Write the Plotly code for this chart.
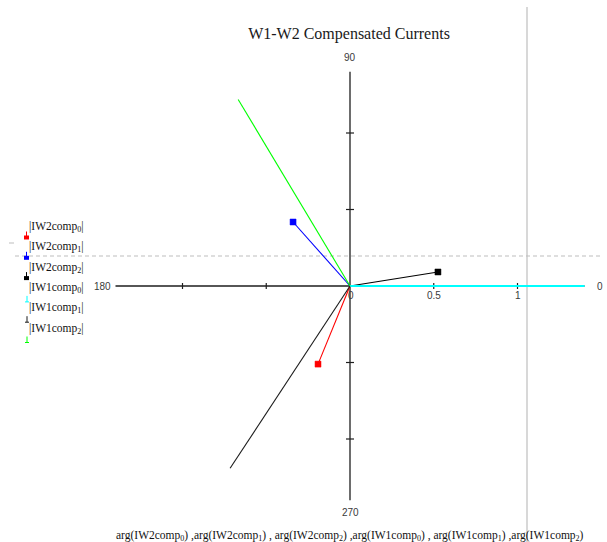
import numpy as np
import plotly.graph_objects as go

# ---- data: phasors (magnitude, angle in degrees) ----
names = ["IW2comp0", "IW2comp1", "IW2comp2", "IW1comp0", "IW1comp1", "IW1comp2"]
magnitudes = [0.545, 0.539, 0.533, 1.40, 1.39, 1.39]
angles_deg = [249.5, 129.1, 9.9, 0.0, 239.0, 118.7]
colors = ["#ff0000", "#0000ff", "#000000", "#00ffff", "#1a1a1a", "#00ff00"]
has_marker = [True, True, True, False, False, False]

radial_ticks = [0.5, 1.0]
radial_tick_labels = ["0.5", "1"]
angle_labels = ["0", "90", "180", "270"]
R_MAX = 1.4

# ---- canvas geometry ----
W, H = 607, 542
CX, CY = 350, 286          # pole position in pixels
SX, SY = 167.5, 153.0      # pixels per unit (x, y)

x_range = [-CX / SX, (W - CX) / SX]
y_range = [(CY - H) / SY, CY / SY]


def px(x):
    return x / W


def py(y):
    return 1 - y / H


fig = go.Figure()

AXIS_COLOR = "#1e1e1e"
# cross axes
fig.add_shape(type="line", x0=-R_MAX, x1=R_MAX, y0=0, y1=0,
              line=dict(color=AXIS_COLOR, width=1.3), layer="below")
fig.add_shape(type="line", x0=0, x1=0, y0=-R_MAX, y1=R_MAX,
              line=dict(color=AXIS_COLOR, width=1.3), layer="below")

# tick marks on both axes
for t in radial_ticks:
    for s in (-1, 1):
        fig.add_shape(type="line", x0=s * t, x1=s * t, y0=-3 / SY, y1=3 / SY,
                      line=dict(color=AXIS_COLOR, width=1.2), layer="below")
        fig.add_shape(type="line", y0=s * t, y1=s * t, x0=-4 / SX, x1=4 / SX,
                      line=dict(color=AXIS_COLOR, width=1.2), layer="below")

# marker guide lines
fig.add_shape(type="line", xref="paper", yref="paper",
              x0=px(527), x1=px(527), y0=py(7), y1=py(542),
              line=dict(color="#d8d8d8", width=2), layer="below")
fig.add_shape(type="line", xref="paper", yref="paper",
              x0=px(15), x1=px(602), y0=py(256), y1=py(256),
              line=dict(color="#bdbdbd", width=1, dash="4px,3px"), layer="below")
fig.add_shape(type="line", xref="paper", yref="paper",
              x0=px(9), x1=px(14), y0=py(243), y1=py(243),
              line=dict(color="#bdbdbd", width=1), layer="below")

# phasor vectors
for name, r, a, c, m in zip(names, magnitudes, angles_deg, colors, has_marker):
    th = np.deg2rad(a)
    xs = [0.0, r * np.cos(th)]
    ys = [0.0, r * np.sin(th)]
    lw = 2.0 if a == 0.0 else 1.1
    fig.add_trace(go.Scatter(
        x=xs, y=ys, mode="lines+markers" if m else "lines",
        line=dict(color=c, width=lw),
        marker=dict(symbol="square", size=[0, 6], color=c, opacity=1,
                    line=dict(width=0.5, color=c)),
        name=name, showlegend=False, hoverinfo="skip"))

SANS = "Liberation Sans, Arial, sans-serif"
SERIF = "Liberation Serif, Times New Roman, serif"
LABEL_COLOR = "#3a3a3a"

# radial tick labels below the horizontal axis
fig.add_annotation(x=0, y=0, text="0", showarrow=False, yshift=-9, xshift=1,
                   font=dict(family=SANS, size=10, color=LABEL_COLOR))
for t, lab in zip(radial_ticks, radial_tick_labels):
    fig.add_annotation(x=t, y=0, text=lab, showarrow=False, yshift=-9,
                       font=dict(family=SANS, size=10, color=LABEL_COLOR))

# angle labels at the axis ends
angle_pos = [(R_MAX, 0, 15, 0), (0, R_MAX, 0, 14), (-R_MAX, 0, -13, 0), (0, -R_MAX, 0, -12)]
for lab, (ax_, ay_, xs_, ys_) in zip(angle_labels, angle_pos):
    fig.add_annotation(x=ax_, y=ay_, text=lab, showarrow=False,
                       xshift=xs_, yshift=ys_,
                       font=dict(family=SANS, size=10, color=LABEL_COLOR))

# legend block on the left
for i, (name, c, m) in enumerate(zip(names, colors, has_marker)):
    ty = 227 + 20.3 * i
    label = "|" + name[:-1] + "<sub>" + name[-1] + "</sub>|"
    fig.add_annotation(xref="paper", yref="paper", x=px(27), y=py(ty),
                       xanchor="left", yanchor="middle", text=label,
                       showarrow=False,
                       font=dict(family=SERIF, size=11.5, color="#111111"))
    my = ty + 9.5 + (2.5 if i >= 3 else 0)
    if m:
        fig.add_shape(type="line", xref="paper", yref="paper",
                      x0=px(26.5), x1=px(26.5), y0=py(my - 5), y1=py(my),
                      line=dict(color=c, width=1))
        fig.add_shape(type="rect", xref="paper", yref="paper",
                      x0=px(24), x1=px(29), y0=py(my - 1), y1=py(my + 3),
                      fillcolor=c, line=dict(width=0))
    else:
        fig.add_shape(type="line", xref="paper", yref="paper",
                      x0=px(27), x1=px(27), y0=py(my - 4), y1=py(my + 2),
                      line=dict(color=c, width=1))
        fig.add_shape(type="line", xref="paper", yref="paper",
                      x0=px(25), x1=px(29), y0=py(my + 2), y1=py(my + 2),
                      line=dict(color=c, width=1))

# bottom expression label
args = ["arg(" + n[:-1] + "<sub>" + n[-1] + "</sub>)" for n in names]
bottom = (args[0] + " ," + args[1] + " , " + args[2] + " ," + args[3]
          + " , " + args[4] + " ," + args[5])
fig.add_annotation(xref="paper", yref="paper", x=px(350), y=py(536),
                   text=bottom, showarrow=False, xanchor="center", yanchor="middle",
                   font=dict(family=SERIF, size=11.5, color="#111111"))

fig.update_layout(
    width=W, height=H, autosize=False,
    margin=dict(l=0, r=0, t=0, b=0),
    paper_bgcolor="white", plot_bgcolor="white",
    title=dict(text="W1-W2 Compensated Currents", x=px(349), y=py(33),
               xanchor="center", yanchor="middle",
               font=dict(family=SERIF, size=16, color="#1a1a1a")),
    xaxis=dict(range=x_range, visible=False, fixedrange=True),
    yaxis=dict(range=y_range, visible=False, fixedrange=True),
    showlegend=False,
)

fig.write_html("out.html", config={"displayModeBar": False})
